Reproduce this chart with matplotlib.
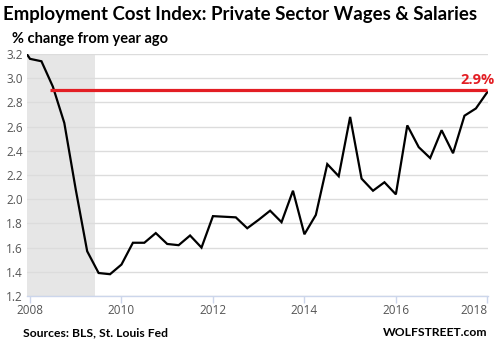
import numpy as np
import pandas as pd
import matplotlib
matplotlib.use("Agg")
import matplotlib.pyplot as plt

# quarterly y/y % change, ECI private wages & salaries
quarters = pd.date_range("2007-10-01", "2018-01-01", freq="QS")
eci = [3.30,
       3.16, 3.14, 2.93, 2.63,
       2.08, 1.57, 1.39, 1.38,
       1.46, 1.64, 1.64, 1.72,
       1.63, 1.62, 1.70, 1.60,
       1.86, 1.855, 1.85, 1.76,
       1.83, 1.905, 1.81, 2.07,
       1.71, 1.87, 2.29, 2.19,
       2.68, 2.17, 2.07, 2.14,
       2.04, 2.61, 2.43, 2.34,
       2.57, 2.38, 2.69, 2.75,
       2.885]
latest = 2.9
recession = (2008.0, 2009.42)
year_ticks = [2008, 2010, 2012, 2014, 2016, 2018]
y_ticks = np.arange(1.2, 3.21, 0.2)

t = quarters.year + (quarters.month - 1) / 12.0

fig = plt.figure(figsize=(4.99, 3.5), dpi=100)
ax = fig.add_axes([0.0541, 0.1543, 0.9239, 0.6914])

ax.set_xlim(2007.934, 2018.015)
ax.set_ylim(1.2, 3.2)

ax.axvspan(ax.get_xlim()[0], recession[1], color="#e6e6e6", zorder=0, lw=0)
ax.set_yticks(y_ticks)
ax.yaxis.grid(True, color="#dcdcdc", lw=1.0, zorder=1)
ax.set_axisbelow(True)

ax.plot(t, eci, color="black", lw=1.6, zorder=3, solid_joinstyle="miter")
ax.hlines(latest, 2008.44, 2018.0, color="#e31e24", lw=2.3, zorder=4)
ax.text(2018.17, latest + 0.03, "2.9%", color="#e31e24", fontsize=10.5,
        fontweight="bold", family="Open Sans", ha="right", va="bottom")

for s in ["top", "right", "left"]:
    ax.spines[s].set_visible(False)
ax.spines["bottom"].set_color("#ccd6eb")
ax.spines["bottom"].set_linewidth(1.0)

ax.set_xticks(year_ticks)
ax.set_xticklabels([str(y) for y in year_ticks])
ax.set_yticklabels([f"{v:.1f}" for v in y_ticks])
ax.tick_params(axis="x", colors="#ccd6eb", length=5, width=1, labelcolor="#555555",
               labelsize=8.5, pad=1)
ax.tick_params(axis="y", length=0, labelcolor="#555555", labelsize=8.5, pad=3)
for lab in ax.get_xticklabels() + ax.get_yticklabels():
    lab.set_family("Open Sans")
ax.get_xticklabels()[-1].set_ha("right")

fig.text(0.006, 0.958, "Employment Cost Index: Private Sector Wages & Salaries",
         fontsize=13.4, fontweight="bold", family="Lato", ha="left", va="center")
fig.text(0.024, 0.89, "% change from year ago", fontsize=10.5, fontweight="bold",
         family="Lato", ha="left", va="center")
fig.text(0.046, 0.049, "Sources: BLS, St. Louis Fed", fontsize=8.7, fontweight="bold",
         family="Lato", ha="left", va="center")
fig.text(0.976, 0.049, "WOLFSTREET.com", fontsize=8.7, fontweight="bold",
         family="Lato", ha="right", va="center")

fig.savefig("out.png", dpi=100)
